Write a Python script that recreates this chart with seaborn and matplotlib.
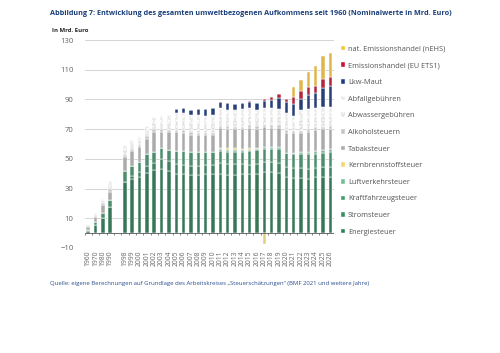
import numpy as np
import matplotlib.pyplot as plt
from matplotlib.patches import Patch
import seaborn as sns

sns.set_theme(style="white")
plt.rcParams["font.family"] = ["Open Sans", "DejaVu Sans"]

# slots: four decades, one empty slot, then single years
years = ["1960", "1970", "1980", "1990", " "] + [str(y) for y in range(1998, 2027)]

energie = [1.3, 5.6, 10.2, 17.7, 0,
           34.1, 36.4, 37.8, 40.7, 42.2, 43.2, 41.8, 40.1, 39.9, 39.0, 39.2, 39.8, 39.8,
           40.0, 39.3, 39.4, 39.8, 39.6, 40.1, 41.0, 40.9, 40.7, 37.6, 37.1, 37.0, 36.7,
           37.5, 37.8, 38.0]
strom = [0, 0, 0, 0, 0,
         0, 1.8, 3.4, 4.3, 5.1, 6.5, 6.6, 6.5, 6.3, 6.4, 6.3, 6.3, 6.2,
         7.2, 7.0, 7.0, 6.6, 6.6, 6.6, 6.9, 6.9, 6.7, 6.6, 6.7, 6.8, 6.8,
         6.5, 6.7, 6.7]
kfz = [0.7, 2.0, 3.5, 4.3, 0,
       7.8, 7.0, 7.0, 8.4, 7.6, 7.3, 7.7, 8.7, 8.9, 8.9, 8.8, 8.2, 8.5,
       8.4, 8.4, 8.5, 8.5, 8.8, 9.0, 9.0, 9.0, 9.4, 9.5, 9.5, 9.5, 9.5,
       9.6, 9.6, 9.7]
luftverkehr = [0, 0, 0, 0, 0,
               0, 0, 0, 0, 0, 0, 0, 0, 0, 0, 0, 0, 0,
               1.0, 1.0, 1.0, 1.0, 1.0, 1.1, 1.1, 1.2, 1.2, 0.5, 0.7, 1.2, 1.7,
               2.0, 2.0, 2.0]
kernbrennstoff = [0, 0, 0, 0, 0,
                  0, 0, 0, 0, 0, 0, 0, 0, 0, 0, 0, 0, 0,
                  0.9, 1.6, 1.3, 0.7, 1.4, 0.4, -7.3, 0, 0, 0, 0, 0, 0,
                  0, 0, 0]
tabak = [2.0, 3.0, 5.0, 5.8, 0,
         9.3, 9.8, 9.8, 10.3, 13.3, 11.3, 11.7, 12.5, 12.5, 12.0, 11.5, 11.5, 11.5,
         13.0, 13.0, 12.8, 13.3, 13.5, 13.0, 13.2, 13.1, 13.1, 13.5, 13.5, 13.0, 13.5,
         14.0, 14.0, 14.0]
alkohol = [0.5, 0.9, 1.3, 1.7, 0] + [1.6] * 29
abwasser = [0.8, 1.2, 1.7, 3.2, 0,
            3.7, 3.5, 3.2, 3.8, 4.7, 5.0, 5.5, 6.2, 6.5, 6.5, 6.8, 6.4, 6.5,
            6.5, 6.1, 6.0, 6.5, 6.4, 6.0, 6.3, 6.4, 6.0, 6.4, 5.5, 7.6, 7.6,
            7.0, 7.1, 7.1]
abfall = [0.7, 1.0, 1.3, 2.5, 0,
          3.1, 2.9, 2.6, 3.2, 3.8, 4.0, 4.5, 5.1, 5.3, 5.4, 5.6, 5.2, 5.4,
          5.4, 5.0, 5.0, 5.4, 5.3, 4.9, 5.2, 5.2, 4.9, 5.3, 4.6, 6.3, 6.2,
          5.8, 5.9, 5.9]
lkw_maut = [0, 0, 0, 0, 0,
            0, 0, 0, 0, 0, 0, 0, 2.9, 3.0, 3.3, 3.6, 4.4, 4.5,
            4.5, 4.4, 4.4, 4.5, 4.4, 4.6, 4.7, 5.2, 7.1, 7.4, 7.8, 7.4, 9.4,
            10.2, 12.8, 14.1]
eu_ets = [0, 0, 0, 0, 0,
          0, 0, 0, 0, 0, 0, 0, 0, 0, 0, 0, 0, 0,
          0, 0, 0, 0, 0.6, 0.6, 1.2, 2.0, 3.0, 2.0, 4.5, 5.0, 5.6,
          4.9, 6.1, 6.3]
nehs = [0, 0, 0, 0, 0,
        0, 0, 0, 0, 0, 0, 0, 0, 0, 0, 0, 0, 0,
        0, 0, 0, 0, 0, 0, 0, 0, 0, 0, 7.2, 8.0, 10.1,
        13.4, 15.6, 16.1]

# (label, values, colour, hatch) from bottom to top
layers = [
    ("Energiesteuer", energie, "#2c8258", None),
    ("Stromsteuer", strom, "#368d63", None),
    ("Kraftfahrzeugsteuer", kfz, "#43996f", None),
    ("Luftverkehrsteuer", luftverkehr, "#74bd97", None),
    ("Kernbrennstoffsteuer", kernbrennstoff, "#f3d86b", None),
    ("Tabaksteuer", tabak, "#ababab", None),
    ("Alkoholsteuern", alkohol, "#c6c6c6", None),
    ("Abwassergebühren", abwasser, "#e0e0e0", "....."),
    ("Abfallgebühren", abfall, "#eaeaea", "...."),
    ("Lkw-Maut", lkw_maut, "#1c3b84", None),
    ("Emissionshandel (EU ETS1)", eu_ets, "#c8102e", None),
    ("nat. Emissionshandel (nEHS)", nehs, "#f7c233", None),
]

fig = plt.figure(figsize=(5.0, 3.53), dpi=100)
ax = fig.add_axes([0.169, 0.2975, 0.4988, 0.589])

pos_base = np.zeros(len(years))
neg_base = np.zeros(len(years))
for name, vals, col, hatch in layers:
    v = np.array(vals, dtype=float)
    bottom = np.where(v >= 0, pos_base, neg_base)
    sns.barplot(x=years, y=v, order=years, bottom=bottom, color=col,
                width=0.46, edgecolor="white", linewidth=0.35, hatch=hatch,
                errorbar=None, ax=ax, zorder=3)
    pos_base += np.clip(v, 0, None)
    neg_base += np.clip(v, None, 0)

ax.set_ylim(-10, 130)
ax.set_xlim(-0.5, len(years) - 0.5)
ax.set_yticks(range(-10, 131, 20))
ax.yaxis.grid(True, color="#d4d4d4", linewidth=0.7, zorder=0)
ax.set_axisbelow(True)
for s in ax.spines.values():
    s.set_visible(False)
ax.axhline(0, color="#555555", linewidth=0.6, zorder=4)
ax.vlines(np.arange(len(years) + 1) - 0.5, -1.3, 0, color="#555555",
          linewidth=0.5, zorder=4)
ax.set_xlabel("")
ax.set_ylabel("")
ax.tick_params(axis="x", labelrotation=90, labelsize=4.9, colors="#666666",
               length=0, pad=2)
ax.tick_params(axis="y", labelsize=5.6, colors="#666666", length=0, pad=8)

handles = [Patch(facecolor=c, edgecolor="white", linewidth=0.3, hatch=h, label=n)
           for n, _, c, h in layers[::-1]]
fig.legend(handles=handles, loc="upper left", bbox_to_anchor=(0.676, 0.879),
           frameon=False, fontsize=5.3, labelcolor="#555555",
           handlelength=0.6, handleheight=0.6, handletextpad=0.35,
           labelspacing=1.31, borderaxespad=0)

fig.text(0.1, 0.963,
         "Abbildung 7: Entwicklung des gesamten umweltbezogenen Aufkommens seit 1960 "
         "(Nominalwerte in Mrd. Euro)",
         fontsize=5.25, fontweight="bold", color="#1b3f7a", ha="left", va="center")
fig.text(0.104, 0.915, "In Mrd. Euro", fontsize=4.3, fontweight="bold",
         color="#222222", ha="left", va="center")
fig.text(0.1, 0.198,
         "Quelle: eigene Berechnungen auf Grundlage des Arbeitskreises "
         "\u201eSteuerschätzungen\u201c (BMF 2021 und weitere Jahre)",
         fontsize=4.3, color="#2a4f8f", ha="left", va="center")

fig.savefig("out.png", dpi=100, facecolor="white")
